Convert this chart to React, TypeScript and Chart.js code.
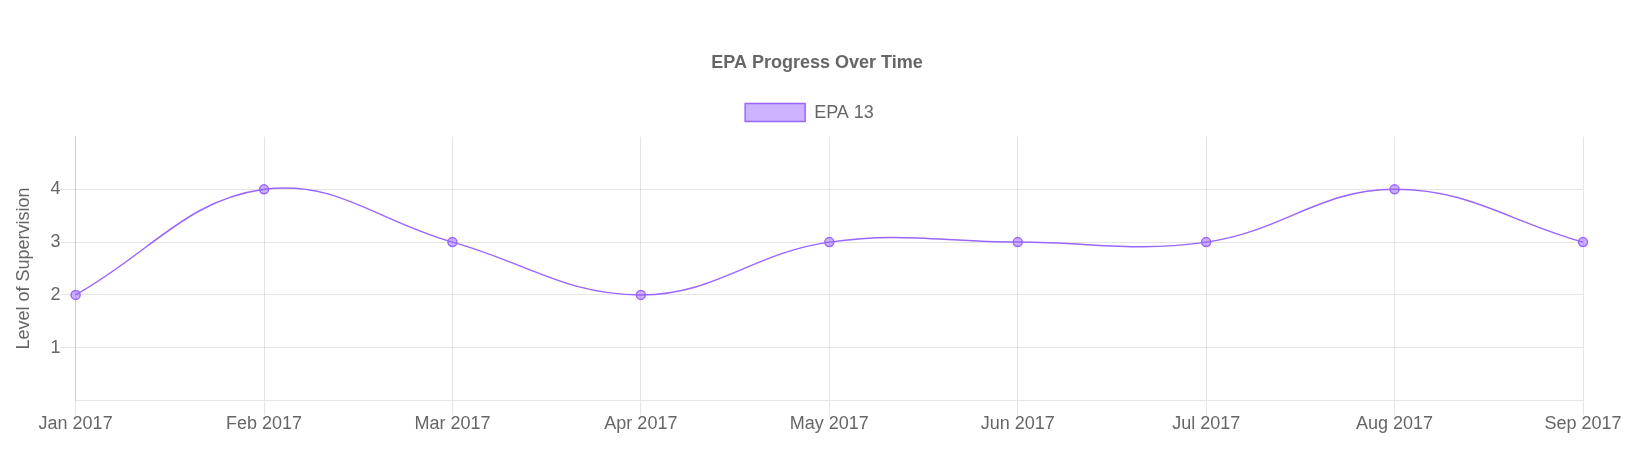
import React, { useEffect, useRef } from "react";
import { Chart, registerables } from "chart.js";

Chart.register(...registerables);

const months = ["Jan 2017", "Feb 2017", "Mar 2017", "Apr 2017", "May 2017", "Jun 2017", "Jul 2017", "Aug 2017", "Sep 2017"];
const epa13 = [2, 4, 3, 2, 3, 3, 3, 4, 3];
const yTicks = [1, 2, 3, 4];
const chartTitle = "EPA Progress Over Time";
const seriesName = "EPA 13";
const yTitle = "Level of Supervision";

const legendGap = {
  id: "legendGap",
  afterInit(chart: any) {
    const lg = chart.legend;
    if (!lg) return;
    const orig = lg.fit;
    lg.fit = function () {
      orig.call(this);
      this.height += 5;
      if (this.lineWidths && this.lineWidths.length) this.lineWidths[0] += 15;
    };
  },
};

export default function App() {
  const ref = useRef<HTMLCanvasElement | null>(null);
  useEffect(() => {
    if (!ref.current) return;
    const font = "'Liberation Sans', Arial, Helvetica, sans-serif";
    const grid = "rgba(0,0,0,0.1)";
    const chart = new Chart(ref.current, {
      type: "line",
      data: {
        labels: months,
        datasets: [
          {
            label: seriesName,
            data: epa13,
            borderColor: "rgb(153,102,255)",
            backgroundColor: "rgba(153,102,255,0.5)",
            borderWidth: 1.5,
            fill: false,
            tension: 0.4,
            pointRadius: 4.5,
            pointBorderWidth: 1.5,
            pointBackgroundColor: "rgba(153,102,255,0.5)",
            pointBorderColor: "rgb(153,102,255)",
          },
        ],
      },
      plugins: [legendGap],
      options: {
        animation: false,
        responsive: true,
        maintainAspectRatio: false,
        layout: { padding: { top: 29, left: 2, right: 9, bottom: 24 } },
        font: { family: font },
        plugins: {
          title: {
            display: true,
            text: chartTitle,
            color: "#666",
            font: { family: font, size: 18, weight: "bold" },
            padding: { top: 15, bottom: 15 },
          },
          legend: {
            labels: {
              color: "#666",
              boxWidth: 60,
              boxHeight: 18,
              padding: 15,
              font: { family: font, size: 18 },
            },
          },
          tooltip: { enabled: false },
        },
        scales: {
          x: {
            offset: false,
            afterFit: (scale: any) => {
              scale.paddingRight = 50;
            },
            grid: { color: grid, tickLength: 15 },
            border: { color: grid },
            ticks: { color: "#666", padding: -2, maxRotation: 0, font: { family: font, size: 18 } },
          },
          y: {
            min: 0,
            max: 5,
            afterBuildTicks: (scale: any) => {
              scale.ticks = [0, ...yTicks, 5].map((v) => ({ value: v }));
            },
            grid: {
              color: (ctx: any) => (ctx.tick && (ctx.tick.value === 0 || ctx.tick.value === 5) ? "rgba(0,0,0,0)" : grid),
              tickLength: 15,
            },
            border: { color: grid },
            ticks: {
              color: "#666",
              padding: 0,
              font: { family: font, size: 18 },
              callback: (v: any) => (yTicks.includes(Number(v)) ? String(v) : ""),
            },
            title: {
              display: true,
              text: yTitle,
              color: "#666",
              font: { family: font, size: 18 },
              padding: { top: 3, bottom: 16 },
            },
          },
        },
      },
    });
    return () => chart.destroy();
  }, []);
  return (
    <div style={{ position: "relative", width: "1625px", height: "449px" }}>
      <canvas ref={ref} />
    </div>
  );
}
